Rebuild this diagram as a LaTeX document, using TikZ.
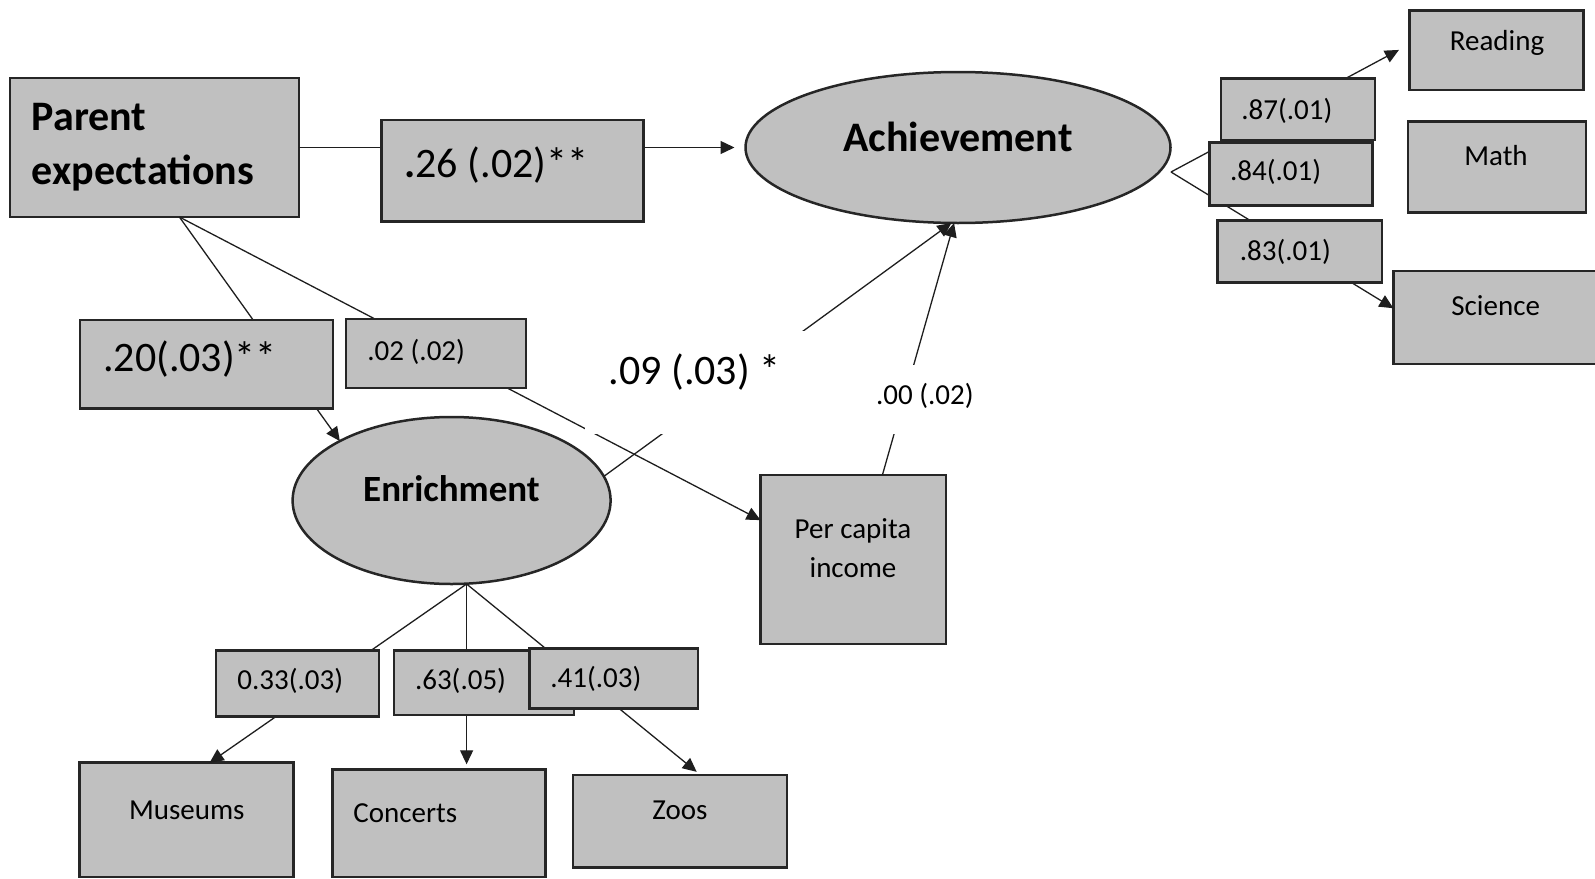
\documentclass[tikz,border=0pt]{standalone}
\usepackage{fontspec}
\setmainfont{Carlito}
\usetikzlibrary{arrows.meta,shapes.geometric}
\definecolor{boxfill}{RGB}{192,192,192}
\definecolor{boxline}{RGB}{38,38,38}
\definecolor{wirec}{RGB}{30,30,30}

\begin{document}
\begin{tikzpicture}[x=0.5pt,y=-0.5pt,
  box/.style={draw=boxline, line width=1.25pt, fill=boxfill, rectangle,
              inner sep=0pt, outer sep=0pt, anchor=north west},
  blob/.style={draw=boxline, line width=1.25pt, fill=boxfill, ellipse,
               inner sep=0pt, outer sep=0pt},
  blank/.style={fill=white, rectangle, inner sep=0pt, outer sep=0pt, anchor=north west},
  wire/.style={draw=wirec, line width=0.65pt},
  arr/.style={wire, -{Triangle[length=7pt,width=6.5pt]}},
  bigtxt/.style={font=\fontsize{21}{27}\selectfont, inner sep=0pt},
  bigbold/.style={font=\fontsize{21}{27}\selectfont\bfseries, inner sep=0pt},
  midbold/.style={font=\fontsize{18.5}{23}\selectfont\bfseries, inner sep=0pt},
  smalltxt/.style={font=\fontsize{14.5}{19.5}\selectfont, inner sep=0pt},
]
\useasboundingbox (0,0) rectangle (1595,878);

% constructs and indicators
\node[box, minimum width=144.5pt, minimum height=69.5pt] (pe) at (10,78) {};
\node[blob, minimum width=212.5pt, minimum height=75.5pt] (ach) at (958,147.5) {};
\node[blob, minimum width=159pt, minimum height=83.5pt] (enr) at (451.6,500.5) {};
\node[box, minimum width=92.7pt, minimum height=84.5pt] (pci) at (760.6,475) {};
\node[box, minimum width=107.1pt, minimum height=57.15pt] (mus) at (79.4,762.7) {};
\node[box, minimum width=106.65pt, minimum height=53.85pt] (con) at (332.4,769.3) {};
\node[box, minimum width=107.05pt, minimum height=46.35pt] (zoo) at (572.9,775) {};
\node[box, minimum width=87.05pt, minimum height=39.65pt] (rea) at (1409.5,10.7) {};
\node[box, minimum width=89pt, minimum height=45.3pt] (mat) at (1407.8,121.7) {};
\node[box, minimum width=105.8pt, minimum height=46.5pt] (sci) at (1393.4,271) {};

% branching points
\coordinate (pa) at (179.4,217);
\coordinate (ea) at (466.6,584);
\coordinate (aa) at (1171,172);

% paths
\draw[arr, shorten >=5.5pt] (pe.east) -- (ach.west);
\draw[arr] (pa) -- (enr.152);
\draw[arr] (pa) -- (pci.157);
\draw[arr] (enr.9) -- (ach.265);
\draw[arr] (pci.71) -- (ach.267);
\draw[arr] (ea) -- (mus.68);
\draw[arr, shorten >=2.5pt] (ea) -- (ea |- con.north);
\draw[arr, shorten >=2.5pt] (ea) -- (zoo.66);
\draw[arr, shorten >=6pt] (aa) -- (rea.176);
\draw[arr] (aa) -- (sci.175);

% coefficient boxes
\node[box, minimum width=131.1pt, minimum height=50.85pt] (l26) at (381.5,120) {};
\node[box, minimum width=126.5pt, minimum height=44.25pt] (l20) at (80,320) {};
\node[box, minimum width=90pt, minimum height=34.5pt] (l02) at (346,319) {};
\node[blank, minimum width=110.5pt, minimum height=51.5pt] (l09) at (585,331) {};
\node[blank, minimum width=70pt, minimum height=34.5pt] (l00) at (850,365) {};
\node[box, minimum width=81.5pt, minimum height=33pt] (l33) at (216,650.7) {};
\node[box, minimum width=90pt, minimum height=32.15pt] (l63) at (393.8,650.7) {};
\node[box, minimum width=84.15pt, minimum height=30pt] (l41) at (529.7,648.3) {};
\node[box, minimum width=77pt, minimum height=30.85pt] (l87) at (1221,78.3) {};
\node[box, minimum width=81.35pt, minimum height=31.7pt] (l84) at (1209.7,142.3) {};
\node[box, minimum width=82.15pt, minimum height=31pt] (l83) at (1217.7,220.7) {};

% texts (multi-line nodes sit on the baseline of their last line)
\node[bigbold, align=left, anchor=base west] (pe-t) at (31.5,184.5) {Parent\\expectations};
\node[bigbold, anchor=base] (ach-t) at (958,151) {Achievement};
\node[midbold, anchor=base] (enr-t) at (451.5,501) {Enrichment};
\node[smalltxt, align=center, anchor=base] (pci-t) at (853,577) {Per capita\\income};
\node[smalltxt, anchor=base] (mus-t) at (186.8,819) {Museums};
\node[smalltxt, anchor=base west] (con-t) at (353,822.5) {Concerts};
\node[smalltxt, anchor=base] (zoo-t) at (680,819) {Zoos};
\node[smalltxt, anchor=base] (rea-t) at (1497,50.5) {Reading};
\node[smalltxt, anchor=base] (mat-t) at (1496,165.5) {Math};
\node[smalltxt, anchor=base] (sci-t) at (1495.7,315.5) {Science};

\node[bigtxt, anchor=base west] (l26-t) at (404,177.5) {\textbf{.}26 (.02)**};
\node[bigtxt, anchor=base west] (l20-t) at (102.8,371) {.20(.03)**};
\node[smalltxt, anchor=base west] (l02-t) at (367,360.5) {.02 (.02)};
\node[bigtxt, anchor=base west] (l09-t) at (608.3,384) {.09 (.03) *};
\node[smalltxt, anchor=base west] (l00-t) at (875.7,404) {.00 (.02)};
\node[smalltxt, anchor=base west] (l33-t) at (237,689.5) {0.33(.03)};
\node[smalltxt, anchor=base west] (l63-t) at (414.6,689.5) {.63(.05)};
\node[smalltxt, anchor=base west] (l41-t) at (550,687.5) {.41(.03)};
\node[smalltxt, anchor=base west] (l87-t) at (1241,119) {.87(.01)};
\node[smalltxt, anchor=base west] (l84-t) at (1229.7,180.5) {.84(.01)};
\node[smalltxt, anchor=base west] (l83-t) at (1239.4,260.5) {.83(.01)};
\end{tikzpicture}
\end{document}
